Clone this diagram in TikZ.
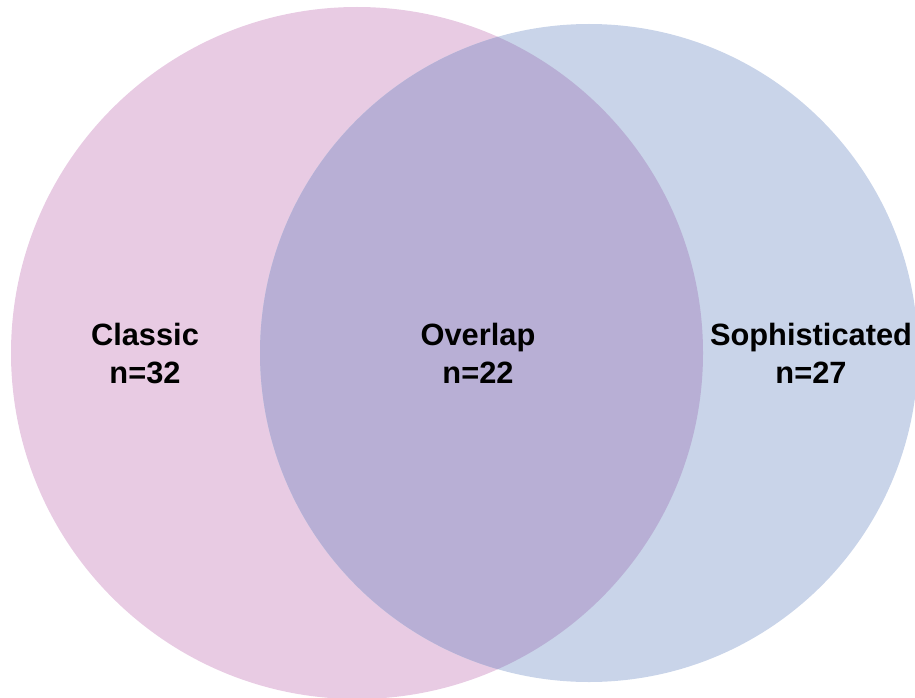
\documentclass[tikz,border=0pt]{standalone}
\usepackage{fontspec}
\setmainfont{Liberation Sans}
\definecolor{pinkc}{HTML}{E8CBE3}
\definecolor{bluec}{HTML}{C9D4E9}
\definecolor{overc}{HTML}{B8AFD5}
\begin{document}
\begin{tikzpicture}[x=1pt,y=-1pt,
  lab/.style={anchor=base,inner sep=0pt,font=\fontsize{30.8}{38}\selectfont\bfseries}]
\useasboundingbox (0,0) rectangle (915,698);
\fill[pinkc] (357,353) circle[radius=346];
\fill[bluec] (589,353) circle[radius=329];
\begin{scope}
\clip (357,353) circle[radius=346];
\fill[overc] (589,353) circle[radius=329];
\end{scope}
\node[lab] (c1) at (145,345) {Classic};
\node[lab] (c2) at (145,383) {n=32};
\node[lab] (o1) at (478,345) {Overlap};
\node[lab] (o2) at (478,383) {n=22};
\node[lab] (s1) at (811,345) {Sophisticated};
\node[lab] (s2) at (811,383) {n=27};
\end{tikzpicture}
\end{document}
